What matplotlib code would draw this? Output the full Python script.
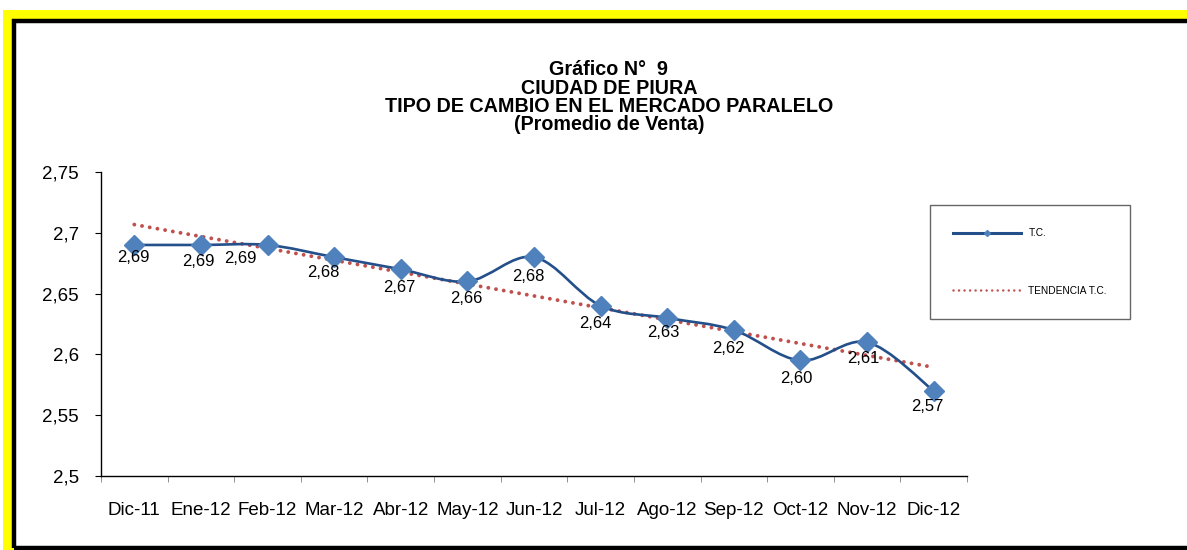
import numpy as np
import matplotlib
matplotlib.use("Agg")
import matplotlib.pyplot as plt
from matplotlib.path import Path
from matplotlib.patches import PathPatch, Rectangle
from matplotlib.lines import Line2D
from matplotlib.ticker import FixedLocator, FixedFormatter

plt.rcParams['font.family'] = ['Liberation Sans', 'DejaVu Sans']

# datos
meses = ['Dic-11', 'Ene-12', 'Feb-12', 'Mar-12', 'Abr-12', 'May-12', 'Jun-12',
         'Jul-12', 'Ago-12', 'Sep-12', 'Oct-12', 'Nov-12', 'Dic-12']
tc = [2.69, 2.69, 2.69, 2.68, 2.67, 2.66, 2.68, 2.64, 2.63, 2.62, 2.595, 2.61, 2.57]
etiquetas = ['2,69', '2,69', '2,69', '2,68', '2,67', '2,66', '2,68',
             '2,64', '2,63', '2,62', '2,60', '2,61', '2,57']
y_ticks = [2.5, 2.55, 2.6, 2.65, 2.7, 2.75]
y_labels = ['2,5', '2,55', '2,6', '2,65', '2,7', '2,75']
titulo = ['Gráfico N°  9', 'CIUDAD DE PIURA',
          'TIPO DE CAMBIO EN EL MERCADO PARALELO', '(Promedio de Venta)']

W, H = 1187, 550
fig = plt.figure(figsize=(W / 100, H / 100), dpi=100)
fig.patch.set_facecolor('white')

# marco amarillo y borde negro
fig.patches.append(Rectangle((3 / W, 0), 1.1, 1 - 10 / H, transform=fig.transFigure,
                             facecolor='#FFFF00', edgecolor='none', zorder=0))
fig.patches.append(Rectangle((14 / W, -0.01), 1.1, 1 - 20.5 / H + 0.01, transform=fig.transFigure,
                             facecolor='white', edgecolor='none', zorder=0.5))
fig.patches.append(Rectangle((14 / W, 2 / H), 1.1, 1 - 22.5 / H, transform=fig.transFigure,
                             facecolor='none', edgecolor='black', linewidth=3.2, zorder=1))

ax = fig.add_axes([101 / W, 74 / H, 866 / W, 304 / H])
ax.set_zorder(3)
ax.set_facecolor('none')
x = np.arange(len(meses))
y = np.array(tc)

# linea suavizada (bezier tipo Excel)
pts = np.column_stack([x, y])
ext = np.vstack([pts[0], pts, pts[-1]])
verts = [tuple(pts[0])]
codes = [Path.MOVETO]
for i in range(len(pts) - 1):
    p0, p1, p2, p3 = ext[i], ext[i + 1], ext[i + 2], ext[i + 3]
    c1 = p1 + (p2 - p0) / 6
    c2 = p2 - (p3 - p1) / 6
    verts += [tuple(c1), tuple(c2), tuple(p2)]
    codes += [Path.CURVE4] * 3
ax.add_patch(PathPatch(Path(verts, codes), facecolor='none', edgecolor='#234F8A',
                       linewidth=1.9, zorder=3))
ax.plot(x, y, linestyle='none', marker='D', markersize=10, color='#4F81BD', zorder=4)

# tendencia lineal
coef = np.polyfit(x, y, 1)
ax.plot(x, np.polyval(coef, x), color='#C0504D', linewidth=2.8,
        linestyle=(0, (0.01, 2.0)), dash_capstyle='round', zorder=2)

# etiquetas de datos
dx = [-1, -3, -27, -11, -1, -1, -6, -5, -4, -5, -4, -4, -6]
dy = [-13, -17, -14, -15, -18, -17, -19, -18, -15, -18, -18, -16, -16]
for i, t in enumerate(etiquetas):
    ax.annotate(t, (x[i], y[i]), xytext=(dx[i], dy[i]), textcoords='offset pixels',
                ha='center', va='center', fontsize=12, zorder=5)

ax.set_xlim(-0.5, len(meses) - 0.5)
ax.set_ylim(2.5, 2.75)
ax.yaxis.set_major_locator(FixedLocator(y_ticks))
ax.yaxis.set_major_formatter(FixedFormatter(y_labels))
ax.set_xticks(x)
ax.set_xticklabels(meses)
ax.set_xticks(np.arange(-0.5, len(meses)), minor=True)
ax.tick_params(axis='x', which='major', length=0, pad=19, labelsize=13.5)
ax.tick_params(axis='x', which='minor', length=4, color='#808080', direction='out')
ax.tick_params(axis='y', length=4, pad=12, labelsize=13.5)
for s in ['top', 'right']:
    ax.spines[s].set_visible(False)
ax.spines['left'].set_linewidth(1.0)
ax.spines['bottom'].set_linewidth(1.0)

# titulo
ty = [70, 88, 106, 124]
for t, yy in zip(titulo, ty):
    fig.text(609 / W, 1 - yy / H, t, ha='center', va='center', fontsize=14.2, fontweight='bold')

# leyenda
h_tc = Line2D([0], [0], color='#234F8A', linewidth=2.2, marker='D', markersize=3,
              markerfacecolor='#4F81BD', markeredgecolor='#4F81BD')
h_tr = Line2D([0], [0], color='#C0504D', linewidth=1.8,
              linestyle=(0, (0.01, 2.2)), dash_capstyle='round')
leg = fig.legend([h_tc, h_tr], ['T.C.', 'TENDENCIA T.C.'], loc='upper left',
                 bbox_to_anchor=(930 / W, 1 - 205 / H), bbox_transform=fig.transFigure,
                 borderaxespad=0, fontsize=7.3, frameon=True, fancybox=False,
                 borderpad=2.3, labelspacing=4.7, handlelength=6.7, handletextpad=0.7,
                 numpoints=1)
leg.get_frame().set_edgecolor('#404040')
leg.get_frame().set_linewidth(1.0)
leg.set_zorder(4)

fig.savefig('out.png', dpi=100, facecolor=fig.get_facecolor())
